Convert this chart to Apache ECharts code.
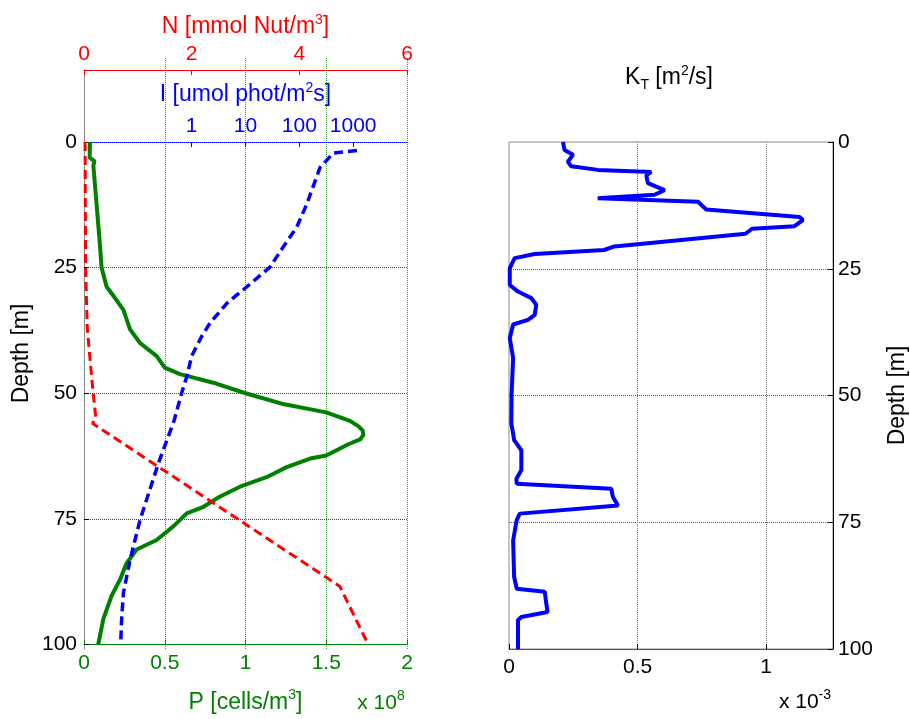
<!DOCTYPE html>
<html><head><meta charset="utf-8">
<script src="https://cdn.jsdelivr.net/npm/echarts@6/dist/echarts.min.js"></script>
<style>html,body{margin:0;padding:0;background:#fff}#c{width:910px;height:719px}</style>
</head><body><div id="c"></div>
<script>
// ---- data ----
const depthP = [0, 3.1, 3.3, 3.8, 4.7, 12.4, 19, 25, 28.8, 31.4, 33.4, 37.3, 40, 42.6, 44.9, 46.2, 47.9, 50, 52.2, 53.8, 55.5, 56.6, 57.4, 58.3, 59.2, 60.1, 62.4, 63, 64.7, 66.7, 68.6, 70.6, 72.6, 73.9, 76.5, 79.2, 81.1, 83.8, 87.1, 90.3, 94.9, 100];
const P      = [0.037, 0.035, 0.025, 0.065, 0.058, 0.078, 0.095, 0.109, 0.14, 0.20, 0.244, 0.285, 0.347, 0.45, 0.50, 0.594, 0.80, 1.0, 1.24, 1.50, 1.647, 1.70, 1.725, 1.73, 1.71, 1.64, 1.50, 1.40, 1.255, 1.13, 0.966, 0.84, 0.74, 0.636, 0.553, 0.45, 0.326, 0.264, 0.223, 0.171, 0.12, 0.088];

const depthN = [0, 25, 37, 50, 54.8, 56, 88.4, 100];
const N      = [0.02, 0.03, 0.06, 0.17, 0.22, 0.16, 4.75, 5.28];

const depthI = [1.7, 2.2, 5.1, 12.4, 17, 20.9, 24.9, 29.4, 32.1, 36, 38.7, 42.6, 46.5, 50, 55.5, 64, 75.2, 83.1, 89.7, 94.9, 100];
const I      = [1175, 427, 242, 137, 89, 50, 28.5, 9.1, 4.5, 2.2, 1.53, 1.0, 0.82, 0.65, 0.47, 0.24, 0.11, 0.072, 0.054, 0.05, 0.048];

const depthK = [0, 1.6, 2.5, 3.9, 4.8, 5.5, 5.9, 6.6, 8.1, 9.5, 10.4, 11.1, 11.8, 13.3, 14.8, 15.4, 16.6, 17.1, 18.1, 20.6, 21.3, 22.1, 22.9, 24.9, 28.2, 29.5, 30.8, 32.1, 34.1, 35.1, 36, 38.7, 42.6, 49.9, 55.5, 57.5, 58.8, 60.8, 64.7, 66.4, 67.4, 68.4, 70, 71.7, 73.3, 74.6, 78.6, 85.8, 88.1, 88.7, 91, 92.7, 93.7, 94.3, 100];
const K      = [0.21, 0.216, 0.249, 0.229, 0.242, 0.346, 0.553, 0.534, 0.54, 0.605, 0.566, 0.345, 0.735, 0.767, 1.13, 1.143, 1.11, 0.945, 0.92, 0.41, 0.37, 0.1, 0.022, 0.003, 0.003, 0.035, 0.087, 0.106, 0.10, 0.074, 0.016, 0.003, 0.016, 0.01, 0.009, 0.016, 0.02, 0.048, 0.048, 0.029, 0.03, 0.398, 0.404, 0.424, 0.042, 0.03, 0.016, 0.02, 0.03, 0.139, 0.145, 0.15, 0.048, 0.035, 0.035];

const depthTicks = [0, 25, 50, 75, 100];
const pTicks = [0, 0.5, 1, 1.5, 2];
const nTicks = [0, 2, 4, 6];
const iTicks = [1, 10, 100, 1000];
const kTicks = [0, 0.5, 1];

// ---- styling ----
const FONT = 'Liberation Sans';
const FS = 21, NS = 23;
const GREEN = '#008000', RED = '#ff0000', BLUE = '#0000ff', GREY = '#8a8a8a';
const rich = (color) => ({
  sup: {fontSize: 14, color, fontFamily: FONT, padding: [0, 0, 14, 0]},
  sub: {fontSize: 14, color, fontFamily: FONT, padding: [14, 0, 0, 0]}
});
const pairs = (xs, ds) => xs.map((v, i) => [v, ds[i]]);
const near = (v, arr) => arr.some(t => Math.abs(v - t) < 1e-6 * Math.max(1, Math.abs(t)));

const chart = echarts.init(document.getElementById('c'));
const option = {
  animation: false,
  textStyle: {fontFamily: FONT},
  grid: [
    {left: 84, top: 142, width: 323, height: 507},
    {left: 84, top: 70, width: 323, height: 579},
    {left: 84, top: 58, width: 323, height: 591},
    {left: 509, top: 142, width: 324, height: 507, show: true, borderColor: GREY, borderWidth: 1}
  ],
  xAxis: [
    {gridIndex: 0, type: 'value', position: 'bottom', min: 0, max: 2, interval: 0.5,
     axisLine: {show: true, onZero: false, lineStyle: {color: GREEN, width: 1}},
     axisTick: {show: true, inside: true, length: 5, lineStyle: {color: GREEN}},
     axisLabel: {color: GREEN, fontSize: FS, fontFamily: FONT, margin: 8, formatter: v => near(v, pTicks) ? String(v) : ''},
     splitLine: {show: false},
     name: 'P [cells/m{sup|3}]', nameLocation: 'middle', nameGap: 44,
     nameTextStyle: {color: GREEN, fontSize: NS, fontFamily: FONT, rich: rich(GREEN)}},
    {gridIndex: 0, type: 'log', logBase: 10, position: 'top', min: 0.01, max: 10000, interval: 1,
     axisLine: {show: true, onZero: false, lineStyle: {color: BLUE, type: 'dotted', width: 1}},
     axisTick: {show: true, inside: true, length: 5, customValues: iTicks, lineStyle: {color: BLUE}},
     minorTick: {show: false},
     axisLabel: {color: BLUE, fontSize: FS, fontFamily: FONT, margin: 5, formatter: v => near(v, iTicks) ? String(Math.round(v)) : ''},
     splitLine: {show: false},
     name: 'I [umol phot/m{sup|2}s]', nameLocation: 'middle', nameGap: 33,
     nameTextStyle: {color: BLUE, fontSize: NS, fontFamily: FONT, rich: rich(BLUE)}},
    {gridIndex: 0, type: 'value', position: 'top', offset: 72, min: 0, max: 6, interval: 2,
     axisLine: {show: true, onZero: false, lineStyle: {color: RED, width: 1}},
     axisTick: {show: true, inside: true, length: 5, lineStyle: {color: RED}},
     axisLabel: {color: RED, fontSize: FS, fontFamily: FONT, margin: 5, formatter: v => near(v, nTicks) ? String(v) : ''},
     splitLine: {show: false},
     name: 'N [mmol Nut/m{sup|3}]', nameLocation: 'middle', nameGap: 29,
     nameTextStyle: {color: RED, fontSize: NS, fontFamily: FONT, rich: rich(RED)}},
    {gridIndex: 1, type: 'value', min: 0, max: 1, show: false},
    {gridIndex: 2, type: 'value', min: 0, max: 2, interval: 0.5,
     axisLine: {show: false}, axisTick: {show: false}, axisLabel: {show: false},
     splitLine: {show: true, showMinLine: false, showMaxLine: true, lineStyle: {color: '#3a9a3a', type: 'dotted', width: 1}}},
    {gridIndex: 3, type: 'value', position: 'bottom', min: 0, max: 1.26, interval: 0.5,
     axisLine: {show: true, onZero: false, lineStyle: {color: '#555', width: 1}},
     axisTick: {show: true, inside: true, length: 5, lineStyle: {color: '#000'}},
     axisLabel: {color: '#000', fontSize: FS, fontFamily: FONT, margin: 8, formatter: v => near(v, kTicks) ? String(v) : ''},
     splitLine: {show: true, showMinLine: false, showMaxLine: false, lineStyle: {color: '#777', type: 'dotted', width: 1}}}
  ],
  yAxis: [
    {gridIndex: 0, type: 'value', inverse: true, min: 0, max: 100, interval: 25, position: 'left',
     axisLine: {show: false, onZero: false},
     axisTick: {show: true, inside: true, length: 5, lineStyle: {color: '#000'}},
     axisLabel: {color: '#000', fontSize: FS, fontFamily: FONT, margin: 7, formatter: v => near(v, depthTicks) ? String(v) : ''},
     splitLine: {show: true, showMinLine: false, showMaxLine: false, lineStyle: {color: '#444', type: 'dotted', width: 1}}},
    {gridIndex: 1, type: 'value', min: 0, max: 1, position: 'left',
     axisLine: {show: true, onZero: false, lineStyle: {color: GREY, width: 1}},
     axisTick: {show: false}, axisLabel: {show: false}, splitLine: {show: false}},
    {gridIndex: 2, type: 'value', min: 0, max: 1, position: 'left',
     axisLine: {show: false, onZero: false}, axisTick: {show: false}, axisLabel: {show: false}, splitLine: {show: false},
     name: 'Depth [m]', nameLocation: 'middle', nameRotate: 90, nameGap: 51,
     nameTextStyle: {color: '#000', fontSize: NS, fontFamily: FONT}},
    {gridIndex: 3, type: 'value', inverse: true, min: 0, max: 100, interval: 25, position: 'right',
     axisLine: {show: true, onZero: false, lineStyle: {color: '#000', width: 1}},
     axisTick: {show: true, inside: true, length: 5, lineStyle: {color: '#000'}},
     axisLabel: {color: '#000', fontSize: FS, fontFamily: FONT, margin: 5, formatter: v => near(v, depthTicks) ? String(v) : ''},
     splitLine: {show: true, showMinLine: false, showMaxLine: false, lineStyle: {color: '#555', type: 'dotted', width: 1}},
     name: 'Depth [m]', nameLocation: 'middle', nameRotate: 90, nameGap: 53,
     nameTextStyle: {color: '#000', fontSize: NS, fontFamily: FONT}}
  ],
  series: [
    {type: 'line', name: 'N', xAxisIndex: 2, yAxisIndex: 0, data: pairs(N, depthN), symbol: 'none',
     lineStyle: {color: RED, width: 3, type: [9, 5]}, z: 3},
    {type: 'line', name: 'I', xAxisIndex: 1, yAxisIndex: 0, data: pairs(I, depthI), symbol: 'none',
     lineStyle: {color: BLUE, width: 3.5, type: [9, 5]}, z: 4},
    {type: 'line', name: 'P', xAxisIndex: 0, yAxisIndex: 0, data: pairs(P, depthP), symbol: 'none',
     lineStyle: {color: GREEN, width: 4}, z: 2},
    {type: 'line', name: 'KT', xAxisIndex: 5, yAxisIndex: 3, data: pairs(K, depthK), symbol: 'none',
     lineStyle: {color: BLUE, width: 4}, z: 3}
  ],
  graphic: [
    {type: 'text', x: 669, y: 78, style: {text: 'K{sub|T} [m{sup|2}/s]', fill: '#000', fontSize: NS, fontFamily: FONT, align: 'center', verticalAlign: 'middle', rich: rich('#000')}},
    {type: 'text', x: 381, y: 703, style: {text: 'x 10{sup|8}', fill: GREEN, fontSize: FS, fontFamily: FONT, align: 'center', verticalAlign: 'middle', rich: rich(GREEN)}},
    {type: 'text', x: 805, y: 702, style: {text: 'x 10{sup|-3}', fill: '#000', fontSize: FS, fontFamily: FONT, align: 'center', verticalAlign: 'middle', rich: rich('#000')}}
  ]
};
chart.setOption(option);
</script>
</body></html>
